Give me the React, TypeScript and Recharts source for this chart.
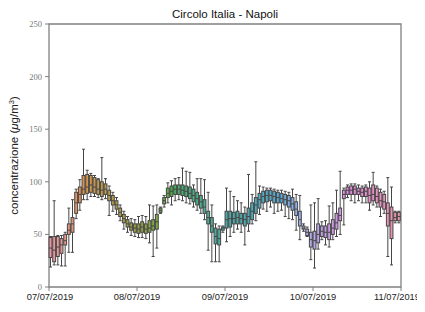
import { ComposedChart, Bar, XAxis, YAxis, ReferenceArea, Label } from 'recharts';

// hourly box statistics, 07/07/2019 00:00 -> 10/07/2019 23:00
const LOW = [
  19, 21, 21, 20, 20, 33, 33, 65, 73, 83, 83, 86, 86, 85, 83, 84, 68, 72, 69, 63, 55, 52, 49, 48,
  47, 47, 46, 42, 29, 37, 70, 76, 80, 78, 82, 83, 82, 80, 79, 76, 73, 70, 64, 35, 24, 24, 24, 52,
  43, 48, 52, 55, 52, 40, 53, 60, 63, 69, 74, 72, 76, 70, 72, 73, 67, 65, 64, 54, 45, 53, 48, 26,
  18, 36, 45, 40, 38, 45, 48, 50, 59, 85, 82, 80, 82, 80, 80, 73, 78, 76, 67, 70, 29, 21, 61, 61,
];
const Q1 = [
  28, 24, 29, 32, 40, 50, 52, 70, 80, 88, 89, 90, 89, 88, 86, 88, 82, 78, 74, 67, 61, 57, 54, 52,
  51, 52, 51, 52, 54, 55, 71, 79, 85, 86, 88, 88, 87, 86, 84, 81, 78, 75, 70, 60, 52, 41, 40, 54,
  56, 57, 60, 60, 60, 58, 60, 64, 70, 75, 80, 81, 82, 80, 80, 80, 78, 76, 73, 68, 58, 55, 49, 38,
  36, 42, 48, 47, 45, 50, 55, 63, 84, 88, 88, 88, 88, 86, 86, 80, 82, 80, 76, 74, 58, 46, 63, 63,
];
const MEDIAN = [
  37, 35, 38, 40, 44, 54, 60, 80, 88, 93, 95, 97, 95, 93, 92, 93, 87, 82, 78, 71, 65, 60, 57, 56,
  55, 57, 55, 56, 58, 62, 73, 82, 89, 91, 93, 93, 92, 91, 89, 87, 84, 81, 76, 66, 58, 48, 46, 56,
  64, 65, 65, 66, 65, 64, 67, 72, 78, 83, 86, 87, 87, 86, 85, 84, 83, 82, 79, 74, 64, 56, 52, 45,
  44, 50, 53, 52, 52, 56, 61, 68, 88, 92, 92, 93, 91, 90, 91, 87, 88, 86, 82, 81, 70, 63, 66, 67,
];
const Q3 = [
  47, 48, 48, 46, 50, 60, 66, 90, 95, 106, 107, 106, 104, 102, 100, 98, 92, 87, 82, 75, 69, 64, 61, 60,
  60, 62, 60, 63, 64, 69, 75, 85, 94, 96, 97, 97, 97, 96, 95, 93, 90, 87, 83, 72, 66, 56, 55, 57,
  72, 72, 71, 72, 70, 70, 75, 80, 85, 89, 91, 92, 92, 91, 90, 89, 88, 87, 85, 81, 72, 58, 55, 52,
  53, 60, 58, 58, 60, 64, 70, 75, 92, 95, 96, 96, 94, 94, 95, 94, 97, 94, 90, 88, 80, 76, 71, 71,
];
const HIGH = [
  48, 82, 49, 49, 52, 75, 83, 93, 102, 131, 111, 108, 106, 103, 123, 103, 96, 90, 85, 78, 72, 67, 65, 64,
  67, 68, 67, 78, 77, 78, 76, 87, 99, 101, 103, 104, 113, 110, 109, 97, 103, 103, 102, 90, 78, 60, 58, 58,
  94, 91, 86, 82, 80, 76, 107, 88, 119, 96, 95, 94, 94, 93, 92, 92, 91, 90, 93, 88, 87, 60, 57, 78,
  80, 84, 62, 63, 77, 80, 92, 110, 94, 97, 98, 98, 97, 96, 97, 100, 109, 96, 93, 91, 104, 95, 72, 72,
];
const DAY_TICKS = [0, 24, 48, 72, 96];
const DAY_LABELS = ['07/07/2019', '08/07/2019', '09/07/2019', '10/07/2019', '11/07/2019'];
const Y_TICKS = [0, 50, 100, 150, 200, 250];

// seaborn-style husl palette (l=.7) desaturated to .75
const M = [
  [3.240969941904521, -1.537383177570093, -0.498610760293],
  [-0.96924363628087, 1.87596750150772, 0.041555057407175],
  [0.055630079696993, -0.20397695888897, 1.056971514242878],
];
function hsluvToRgb(h: number, s: number, l: number) {
  const sub1 = Math.pow(l + 16, 3) / 1560896;
  const sub2 = sub1 > 0.0088564516 ? sub1 : l / 903.2962962;
  const hr = (h / 360) * 2 * Math.PI;
  let maxC = Infinity;
  for (const [m1, m2, m3] of M) {
    for (const t of [0, 1]) {
      const top1 = (284517 * m1 - 94839 * m3) * sub2;
      const top2 = (838422 * m3 + 769860 * m2 + 731718 * m1) * l * sub2 - 769860 * t * l;
      const bottom = (632260 * m3 - 126452 * m2) * sub2 + 126452 * t;
      const len = top2 / bottom / (Math.sin(hr) - (top1 / bottom) * Math.cos(hr));
      if (len >= 0) maxC = Math.min(maxC, len);
    }
  }
  const c = (maxC / 100) * s;
  const varU = (Math.cos(hr) * c) / (13 * l) + 0.19783000664283;
  const varV = (Math.sin(hr) * c) / (13 * l) + 0.46831999493879;
  const Y = l <= 8 ? l / 903.2962962 : Math.pow((l + 16) / 116, 3);
  const X = -(9 * Y * varU) / ((varU - 4) * varV - varU * varV);
  const Z = (9 * Y - 15 * varV * Y - varV * X) / (3 * varV);
  return M.map(([a, b, d]) => {
    const lin = a * X + b * Y + d * Z;
    const g = lin <= 0.0031308 ? 12.92 * lin : 1.055 * Math.pow(lin, 1 / 2.4) - 0.055;
    return Math.min(1, Math.max(0, g));
  });
}
function rgbToHsl([r, g, b]: number[]) {
  const mx = Math.max(r, g, b), mn = Math.min(r, g, b);
  const l = (mx + mn) / 2;
  if (mx === mn) return [0, 0, l];
  const d = mx - mn;
  const s = l <= 0.5 ? d / (mx + mn) : d / (2 - mx - mn);
  let h = mx === r ? (g - b) / d : mx === g ? 2 + (b - r) / d : 4 + (r - g) / d;
  h = ((h / 6) % 1 + 1) % 1;
  return [h, s, l];
}
function hslToRgb(h: number, s: number, l: number) {
  const q = l < 0.5 ? l * (1 + s) : l + s - l * s;
  const p = 2 * l - q;
  const f = (t: number) => {
    t = ((t % 1) + 1) % 1;
    if (t < 1 / 6) return p + (q - p) * 6 * t;
    if (t < 1 / 2) return q;
    if (t < 2 / 3) return p + (q - p) * (2 / 3 - t) * 6;
    return p;
  };
  return [f(h + 1 / 3), f(h), f(h - 1 / 3)];
}
const hex = (c: number[]) =>
  '#' + c.map((v) => Math.round(v * 255).toString(16).padStart(2, '0')).join('');

const N = LOW.length;
const hsl = Array.from({ length: N }, (_, i) => {
  const hue = (((i / N) + 0.01) % 1) * 359;
  const [h, s, l] = rgbToHsl(hsluvToRgb(hue, 89.1, 69.3));
  return [h, s * 0.75, l];
});
const COLORS = hsl.map(([h, s, l]) => hex(hslToRgb(h, s, l)));
const lum = Math.min(...hsl.map((c) => c[2])) * 0.6;
const EDGE = hex([lum, lum, lum]);

const data = LOW.map((low, i) => ({
  x: i + 0.5,
  low,
  q1: Q1[i],
  median: MEDIAN[i],
  q3: Q3[i],
  high: HIGH[i],
  color: COLORS[i],
}));

const BoxShape = (props: any) => {
  const { x, y, width, height, payload } = props;
  const cx = x + width / 2;
  const top = Math.min(y, y + height);
  const h = Math.abs(height);
  const span = payload.high - payload.low || 1;
  const toY = (v: number) => top + ((payload.high - v) / span) * h;
  const bw = 2.9;
  const cw = 1.5;
  return (
    <g>
      <line x1={cx} x2={cx} y1={toY(payload.high)} y2={toY(payload.q3)} stroke={EDGE} strokeWidth={1} />
      <line x1={cx} x2={cx} y1={toY(payload.q1)} y2={toY(payload.low)} stroke={EDGE} strokeWidth={1} />
      <line x1={cx - cw} x2={cx + cw} y1={toY(payload.high)} y2={toY(payload.high)} stroke={EDGE} strokeWidth={1} />
      <line x1={cx - cw} x2={cx + cw} y1={toY(payload.low)} y2={toY(payload.low)} stroke={EDGE} strokeWidth={1} />
      <rect
        x={cx - bw / 2}
        y={toY(payload.q3)}
        width={bw}
        height={Math.max(0.5, toY(payload.q1) - toY(payload.q3))}
        fill={payload.color}
        stroke={EDGE}
        strokeWidth={1}
      />
      <line x1={cx - bw / 2} x2={cx + bw / 2} y1={toY(payload.median)} y2={toY(payload.median)} stroke={EDGE} strokeWidth={1} />
    </g>
  );
};

const DayTick = (props: any) => {
  const { x, y, payload } = props;
  const idx = DAY_TICKS.indexOf(payload.value);
  const shift = idx === DAY_TICKS.length - 1 ? -4 : idx === 0 ? 1 : 0;
  return (
    <text
      x={x + shift}
      y={y}
      dy="0.71em"
      textAnchor="middle"
      fontFamily="Liberation Sans"
      fontSize={9.3}
      fill="#222"
    >
      {DAY_LABELS[idx]}
    </text>
  );
};

const YLabel = (props: any) => {
  const vb = props.viewBox;
  const cx = vb.x + 10;
  const cy = vb.y + vb.height / 2;
  return (
    <text
      x={cx}
      y={cy}
      transform={`rotate(-90, ${cx}, ${cy})`}
      textAnchor="middle"
      fontFamily="Liberation Sans"
      fontSize={11.5}
      fill="#222"
    >
      concentrazione (<tspan fontStyle="italic">μ</tspan>g/m<tspan dy={-4} fontSize={7.5}>3</tspan>
      <tspan dy={4}>)</tspan>
    </text>
  );
};

export default function App() {
  return (
    <div>
      <style>{'html,body{overflow:hidden} .recharts-surface{overflow:visible}'}</style>
      <ComposedChart width={417} height={296} data={data} margin={{ top: 16, right: 24, left: 0, bottom: 0 }}>
        <text x={217} y={10} textAnchor="middle" fontFamily="Liberation Sans" fontSize={11.5} fill="#111">
          Circolo Italia - Napoli
        </text>
        <XAxis
          dataKey="x"
          type="number"
          domain={[0, 96]}
          ticks={DAY_TICKS}
          axisLine={false}
          tickLine={{ stroke: '#808080' }}
          tickSize={4}
          tickMargin={2}
          height={17}
          interval={0}
          tick={<DayTick />}
        />
        <YAxis
          domain={[0, 250]}
          ticks={Y_TICKS}
          width={41}
          axisLine={false}
          tickLine={{ stroke: '#808080' }}
          tickSize={4}
          tickMargin={3}
          tick={{ fontSize: 8.5, fill: '#777', fontFamily: 'Liberation Serif' }}
        >
          <Label content={<YLabel />} position="insideLeft" />
        </YAxis>
        <Bar
          dataKey={(d: any) => [d.low, d.high]}
          barSize={3}
          shape={<BoxShape />}
          isAnimationActive={false}
        />
        <ReferenceArea x1={0} x2={96} y1={0} y2={250} fill="none" stroke="#808080" strokeWidth={1.3} />
      </ComposedChart>
    </div>
  );
}
